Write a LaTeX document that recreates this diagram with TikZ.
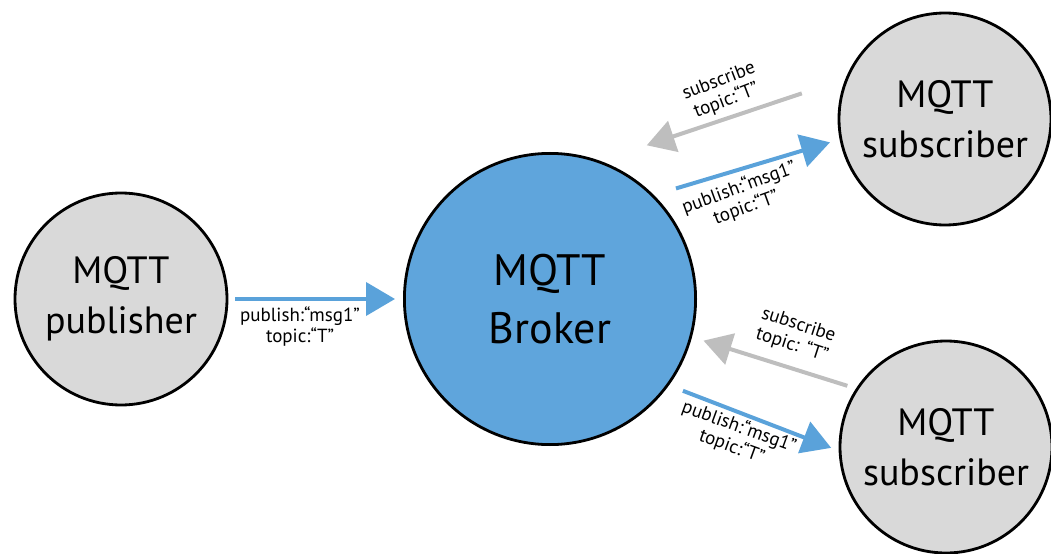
\documentclass[tikz,border=0pt]{standalone}
\usepackage{fontspec}
\setmainfont{PT Sans}
\usepackage{tikz}
\usetikzlibrary{arrows.meta}
\definecolor{BrokerBlue}{HTML}{5FA5DC}
\definecolor{ClientGrey}{HTML}{D9D9D9}
\definecolor{ReqGrey}{HTML}{BEBEBE}
\definecolor{MsgBlue}{HTML}{5AA2DA}
% two-line tilted label
\newcommand\tiltlbl[2]{\rotatebox{#1}{\begin{tabular}{@{}c@{}}#2\end{tabular}}}

\begin{document}
\begin{tikzpicture}[
      x=0.5pt,y=0.5pt,
      client/.style={circle,draw=black,line width=1.4pt,fill=ClientGrey,inner sep=0pt,minimum size=106pt,align=center,font=\fontsize{19}{25}\selectfont},
      broker/.style={client,fill=BrokerBlue,minimum size=145.6pt,font=\fontsize{22}{29}\selectfont},
      msg/.style={-{Triangle[length=14.5pt,width=16.5pt]},line width=2pt,draw=MsgBlue},
      req/.style={-{Triangle[length=14pt,width=16pt]},line width=2pt,draw=ReqGrey},
      lbl/.style={inner sep=0pt,align=center,font=\fontsize{9.5}{10.5}\selectfont}
    ]
      \useasboundingbox (0,0) rectangle (1051,553);
      \node[client] (pub) at (121,254) {MQTT\\publisher};
      \node[broker] (brk) at (550,254) {MQTT\\Broker};
      \node[client] (sub1) at (945,434) {MQTT\\subscriber};
      \node[client] (sub2) at (946,106) {MQTT\\subscriber};
      % publisher -> broker
      \draw[msg,shorten <=3.5pt,shorten >=4pt] (pub) -- (brk);
      \node[lbl] (publbl) at (300,226) {publish:“msg1”\\topic:“T”};
      % upper subscriber
      \draw[req,shorten <=23pt,shorten >=24.5pt] (sub1.158) -- (brk.70);
      \draw[msg,shorten <=11.5pt,shorten >=5pt] (brk.45) -- (sub1.191);
      \node[lbl] (sub1lbl) at (723,461) {\tiltlbl{21}{subscribe\\topic:“T”}};
      \node[lbl] (msg1lbl) at (743,354) {\tiltlbl{20}{publish:“msg1”\\topic:“T”}};
      % lower subscriber
      \draw[req,shorten <=4.5pt,shorten >=6pt] (sub2.147) -- (brk.345);
      \draw[msg,shorten <=7.5pt,shorten >=4pt] (brk.324) -- (sub2.182);
      \node[lbl] (sub2lbl) at (795,217) {\tiltlbl{-18}{subscribe\\topic: “T”}};
      \node[lbl] (msg2lbl) at (735,115) {\tiltlbl{-20}{publish:“msg1”\\topic:“T”}};
    \end{tikzpicture}
\end{document}
